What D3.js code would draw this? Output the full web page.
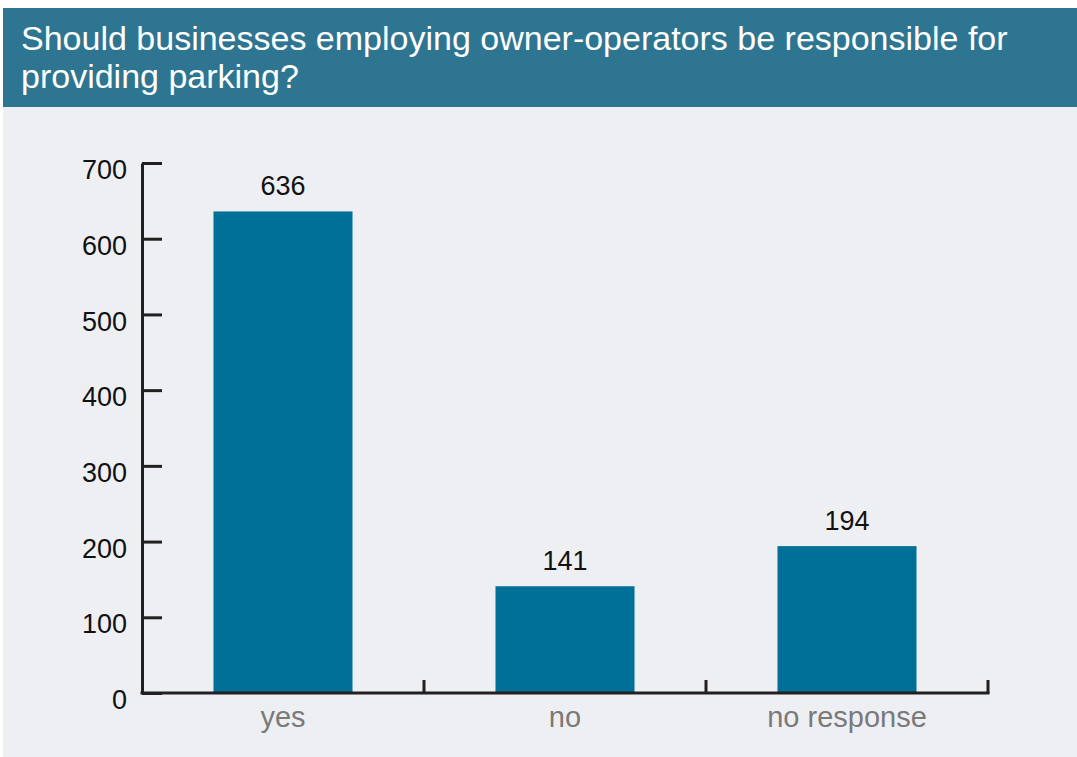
<!DOCTYPE html>
<html>
<head>
<meta charset="utf-8">
<script src="https://cdn.jsdelivr.net/npm/d3@7"></script>
<style>
  html, body { margin: 0; padding: 0; background: #fff; }
  svg { display: block; font-family: "Liberation Sans", Arial, sans-serif; }
</style>
</head>
<body>
<div id="chart"></div>
<script>
// survey answers
const categories = ['yes', 'no', 'no response'];
const counts = [636, 141, 194];
const yTicks = [0, 100, 200, 300, 400, 500, 600, 700];
const titleLines = [
  'Should businesses employing owner-operators be responsible for',
  'providing parking?'
];

(function() {
  const width = 1077;
  const height = 757;
  const margin = { top: 163, right: 89, bottom: 64, left: 142 };

  const svg = d3.select('#chart')
    .append('svg')
    .attr('width', width)
    .attr('height', height);

  // panel + title banner
  svg.append('rect')
    .attr('x', 3).attr('y', 107)
    .attr('width', width - 3).attr('height', height - 107)
    .attr('fill', '#eeeff3');

  svg.append('rect')
    .attr('x', 3).attr('y', 8)
    .attr('width', width - 3).attr('height', 99)
    .attr('fill', '#2e7591');

  svg.append('g')
    .selectAll('text')
    .data(titleLines)
    .enter()
    .append('text')
    .attr('x', 21)
    .attr('y', (d, i) => 50 + i * 38)
    .attr('fill', '#fff')
    .style('font-size', '34px')
    .text(d => d);

  const x = d3.scaleBand()
    .domain(categories)
    .range([margin.left, width - margin.right])
    .paddingInner(0.507)
    .paddingOuter(0.2535);

  const y = d3.scaleLinear()
    .domain([0, 700])
    .range([height - margin.bottom, margin.top]);

  const axisColor = '#231f20';

  // bars
  svg.append('g')
    .selectAll('rect')
    .data(counts)
    .enter()
    .append('rect')
    .attr('x', (d, i) => x(categories[i]))
    .attr('y', d => y(d))
    .attr('width', x.bandwidth())
    .attr('height', d => y(0) - y(d))
    .attr('fill', '#007099');

  // value labels
  svg.append('g')
    .selectAll('text')
    .data(counts)
    .enter()
    .append('text')
    .attr('x', (d, i) => x(categories[i]) + x.bandwidth() / 2)
    .attr('y', d => y(d) - 16)
    .attr('text-anchor', 'middle')
    .attr('fill', '#111')
    .style('font-size', '27px')
    .text(d => d);

  // y axis, ticks pointing into the plot
  const yAxis = svg.append('g')
    .attr('transform', `translate(${margin.left},0)`)
    .call(d3.axisLeft(y).tickValues(yTicks).tickSize(-20).tickPadding(15).tickSizeOuter(0));
  yAxis.select('.domain').attr('stroke', axisColor).attr('stroke-width', 3);
  yAxis.selectAll('.tick line').attr('stroke', axisColor).attr('stroke-width', 3);
  yAxis.selectAll('.tick text')
    .attr('fill', '#111')
    .attr('dy', '0.58em')
    .style('font-size', '27px')
    .style('font-family', '"Liberation Sans", Arial, sans-serif');

  // x axis: ticks on category boundaries, pointing up
  const boundaries = categories.map(c => x(c) + x.bandwidth() / 2 + x.step() / 2);
  const xg = svg.append('g')
    .attr('transform', `translate(0,${y(0)})`);
  xg.append('line')
    .attr('x1', margin.left - 1.5).attr('x2', width - margin.right + 1.5)
    .attr('stroke', axisColor).attr('stroke-width', 3);
  xg.selectAll('.bound')
    .data(boundaries)
    .enter()
    .append('line')
    .attr('class', 'bound')
    .attr('x1', d => d).attr('x2', d => d)
    .attr('y1', 0).attr('y2', -13)
    .attr('stroke', axisColor).attr('stroke-width', 3);

  xg.selectAll('.lab')
    .data(categories)
    .enter()
    .append('text')
    .attr('class', 'lab')
    .attr('x', d => x(d) + x.bandwidth() / 2)
    .attr('y', 34)
    .attr('text-anchor', 'middle')
    .attr('fill', '#7a7a7a')
    .style('font-size', '29px')
    .text(d => d);
})();
</script>
</body>
</html>
